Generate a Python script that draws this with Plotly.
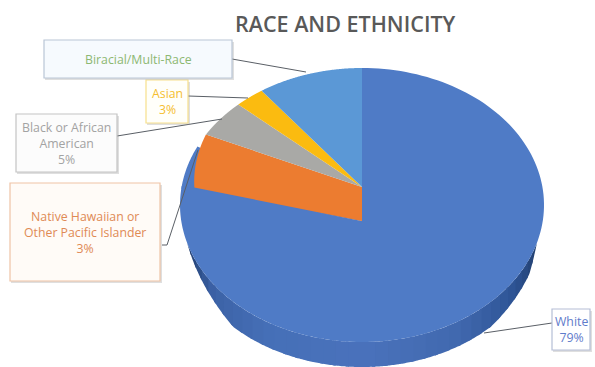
import numpy as np
import plotly.graph_objects as go

categories = ["White", "Native Hawaiian or Other Pacific Islander", "Black or African American", "Asian", "Biracial/Multi-Race"]
values = [77.2, 6.4, 4.5, 2.6, 9.3]
label_text = ["White<br>79%", "Native Hawaiian or<br>Other Pacific Islander<br>3%", "Black or African<br>American<br>5%", "Asian<br>3%", "Biracial/Multi-Race"]
colors = ["#4F7BC6", "#EC7C30", "#A9A9A6", "#FBBB10", "#5B98D6"]
text_colors = ["#5F7CCB", "#E08A55", "#A3A3A3", "#F5BE30", "#8DB872"]
borders = ["#B5BED6", "#EFC4A6", "#C4C4C4", "#F7E08C", "#B9C6D6"]
fills = ["#FFFFFF", "#FFFBF7", "#FCFCFC", "#FFFFFA", "#F6FAFE"]

W, H = 595, 367
cx, cy, rx, ry = 362, 205, 182, 137
tip_low, tip_high = (362, 221), (362, 187)

def pt(th, dy=0, s=1.0):
    return cx + s*rx*np.sin(th), cy - s*ry*np.cos(th) + dy

def side_depth(deg):
    return np.interp(deg, [106, 113, 135, 225, 235, 254], [0, 15, 25, 25, 16, 0])

fig = go.Figure()

# extruded side: shaded darker towards both ends
stops_deg = [106, 125, 150, 180, 210, 235, 254]
stops_rgb = np.array([[0x22, 0x40, 0x6F], [0x2F, 0x55, 0x97], [0x42, 0x6A, 0xB0], [0x4A, 0x72, 0xBC],
                      [0x46, 0x70, 0xB8], [0x3C, 0x62, 0xA6], [0x1F, 0x3B, 0x6B]])
n_seg = 36
seg_edges = np.linspace(106, 254, n_seg + 1)
for k in range(n_seg):
    a, b = seg_edges[k], seg_edges[k+1]
    deg = np.linspace(a, b + (1.0 if k < n_seg-1 else 0), 12)
    th = np.radians(deg)
    x0, y0 = pt(th)
    x1, y1 = pt(th[::-1], side_depth(deg[::-1]))
    mid = (a + b) / 2
    rgb = [int(np.interp(mid, stops_deg, stops_rgb[:, j])) for j in range(3)]
    fig.add_trace(go.Scatter(x=np.r_[x0, x1], y=np.r_[y0, y1], fill="toself", mode="none",
                             fillcolor=f"rgb({rgb[0]},{rgb[1]},{rgb[2]})", hoverinfo="skip", showlegend=False))

edges = np.cumsum([0] + values) / sum(values) * 2*np.pi

# part of the White slice showing behind the pulled-in Native Hawaiian slice
th = np.linspace(edges[1] - 0.02, edges[2] - 0.10, 40)
x, y = pt(th)
fig.add_trace(go.Scatter(x=np.r_[x, tip_low[0]], y=np.r_[y, tip_low[1]], fill="toself", mode="none",
                         fillcolor=colors[0], hoverinfo="skip", showlegend=False))

# top surface wedges
for i, cat in enumerate(categories):
    th = np.linspace(edges[i], edges[i+1], 160)
    if i == 1:
        s = np.linspace(0.93, 1.0, 160)
        x, y = pt(th, 0, s)
        px, py = np.r_[tip_low[0], x, tip_high[0], tip_low[0]], np.r_[tip_low[1], y, tip_high[1], tip_low[1]]
    else:
        x, y = pt(th)
        t = tip_low if i == 0 else tip_high
        px, py = np.r_[t[0], x, t[0]], np.r_[t[1], y, t[1]]
    fig.add_trace(go.Scatter(x=px, y=py, fill="toself", mode="none", fillcolor=colors[i],
                             name=cat, hoverinfo="name", showlegend=False))

boxes = [(552, 309, 590, 350), (10, 183, 160, 281), (16, 114, 117, 172), (146, 80, 188, 123), (44, 40, 232, 78)]
leaders = [[(552, 323), (484, 333)],
           [(162, 245), (167, 245), (198, 150)],
           [(117, 136), (222, 119)],
           [(188, 96), (248, 98)],
           [(232, 59), (306, 72)]]

shapes, anns = [], []
for i, (x0, y0, x1, y1) in enumerate(boxes):
    shapes.append(dict(type="rect", x0=x0+1, y0=y0+2, x1=x1+2, y1=y1+2, line_width=0, fillcolor="rgba(150,150,150,0.3)"))
    shapes.append(dict(type="rect", x0=x0, y0=y0, x1=x1, y1=y1, line=dict(color=borders[i], width=1.2), fillcolor=fills[i]))
    anns.append(dict(x=(x0+x1)/2, y=(y0+y1)/2, text=label_text[i], showarrow=False, xanchor="center", yanchor="middle",
                     font=dict(family="Open Sans", size=12.3, color=text_colors[i]), align="center"))
    pts = leaders[i]
    fig.add_trace(go.Scatter(x=[p[0] for p in pts], y=[p[1] for p in pts], mode="lines",
                             line=dict(color="#5A5F66", width=1), hoverinfo="skip", showlegend=False))

anns.append(dict(x=345, y=23, text="RACE AND ETHNICITY", showarrow=False, xanchor="center", yanchor="middle",
                 font=dict(family="Open Sans", size=21.5, color="#595959", weight=600)))

fig.update_layout(width=W, height=H, margin=dict(l=0, r=0, t=0, b=0), paper_bgcolor="white", plot_bgcolor="white",
                  xaxis=dict(range=[0, W], visible=False, fixedrange=True),
                  yaxis=dict(range=[H, 0], visible=False, fixedrange=True),
                  shapes=shapes, annotations=anns, showlegend=False)
fig.write_html("out.html", post_script="document.body.style.margin='0';", config={"displayModeBar": False})
